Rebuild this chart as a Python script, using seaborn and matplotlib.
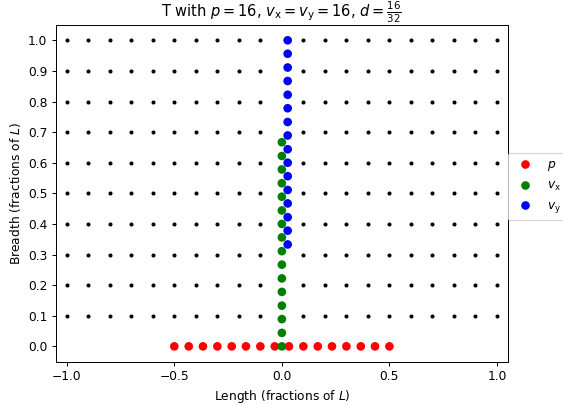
import numpy as np
import pandas as pd
import matplotlib
matplotlib.use('Agg')
import matplotlib.pyplot as plt
import seaborn as sns

# grade de pontos de fundo (sem a coluna x = 0)
grid_x = [-1.0, -0.9, -0.8, -0.7, -0.6, -0.5, -0.4, -0.3, -0.2, -0.1,
          0.1, 0.2, 0.3, 0.4, 0.5, 0.6, 0.7, 0.8, 0.9, 1.0]
grid_y = [0.1, 0.2, 0.3, 0.4, 0.5, 0.6, 0.7, 0.8, 0.9, 1.0]

# p: linha vermelha em y = 0
p_x = [-0.5, -0.433, -0.367, -0.3, -0.233, -0.167, -0.1, -0.033,
       0.033, 0.1, 0.167, 0.233, 0.3, 0.367, 0.433, 0.5]
p_y = [0.0] * 16

# v_x: coluna verde em x = 0
vx_x = [0.0] * 16
vx_y = [0.0, 0.044, 0.089, 0.133, 0.178, 0.222, 0.267, 0.311,
        0.356, 0.4, 0.444, 0.489, 0.533, 0.578, 0.622, 0.667]

# v_y: coluna azul
vy_x = [0.027] * 16
vy_y = [0.333, 0.378, 0.422, 0.467, 0.511, 0.556, 0.6, 0.644,
        0.689, 0.733, 0.778, 0.822, 0.867, 0.911, 0.956, 1.0]

labels = ['$p$', r'$v_\mathrm{x}$', r'$v_\mathrm{y}$']
cores = {labels[0]: 'red', labels[1]: 'green', labels[2]: 'blue'}

gx, gy = np.meshgrid(grid_x, grid_y)
grade = pd.DataFrame({'x': gx.ravel(), 'y': gy.ravel()})

pontos = pd.concat([
    pd.DataFrame({'x': p_x, 'y': p_y, 'serie': labels[0]}),
    pd.DataFrame({'x': vx_x, 'y': vx_y, 'serie': labels[1]}),
    pd.DataFrame({'x': vy_x, 'y': vy_y, 'serie': labels[2]}),
], ignore_index=True)

fig, ax = plt.subplots(figsize=(563 / 88, 405 / 88), dpi=88)
fig.subplots_adjust(left=0.0995, right=0.9018, top=0.9383, bottom=0.107)

sns.scatterplot(data=grade, x='x', y='y', color='black', s=11, linewidth=0, ax=ax)
sns.scatterplot(data=pontos, x='x', y='y', hue='serie', palette=cores,
                s=50, linewidth=0, ax=ax)

ax.set_xlim(-1.05, 1.05)
ax.set_ylim(-0.05, 1.05)
ax.set_yticks(np.arange(0, 1.01, 0.1))
ax.set_xticks([-1.0, -0.5, 0.0, 0.5, 1.0])
ax.set_title(r'T with $p=16$, $v_\mathrm{x}=v_\mathrm{y}=16$, $d=\frac{16}{32}$')
ax.set_xlabel('Length (fractions of $L$)')
ax.set_ylabel('Breadth (fractions of $L$)')
sns.move_legend(ax, 'center left', bbox_to_anchor=(1.0, 0.52), title=None,
                borderaxespad=0)

fig.savefig('out.png', dpi=88)
